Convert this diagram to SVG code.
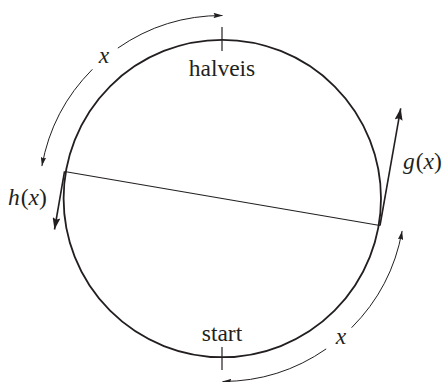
<svg xmlns="http://www.w3.org/2000/svg" width="444" height="382" viewBox="0 0 444 382">
<style>
text{font-family:'Liberation Serif','Times New Roman',Times,'DejaVu Serif',serif;font-size:23.5px;fill:#231f20}
.it{font-style:italic}
.arc{fill:none;stroke:#231f20;stroke-width:1}
.tan{fill:none;stroke:#231f20;stroke-width:1.6}
</style>
<defs>
<marker id="sm" viewBox="0 0 10 6" refX="10" refY="3" markerUnits="userSpaceOnUse" markerWidth="9" markerHeight="5.6" orient="auto">
<path d="M0,0 L10,3 L0,6 L1.5,3 Z" fill="#231f20"/>
</marker>
<marker id="lg" viewBox="0 0 12 8" refX="12" refY="4" markerUnits="userSpaceOnUse" markerWidth="12" markerHeight="8" orient="auto">
<path d="M0,0 L12,4 L0,8 L2,4 Z" fill="#231f20"/>
</marker>
</defs>
<g id="circle">
<circle cx="222.3" cy="198.5" r="158.7" fill="none" stroke="#231f20" stroke-width="1.8"/>
</g>
<g id="halveis">
<line x1="222" y1="27" x2="222" y2="51" stroke="#231f20" stroke-width="1.2"/>
<text x="222" y="76" text-anchor="middle" font-family="Liberation Serif, serif">halveis</text>
</g>
<g id="start">
<line x1="222" y1="347" x2="222" y2="370" stroke="#231f20" stroke-width="1.2"/>
<text x="222" y="341" text-anchor="middle" font-family="Liberation Serif, serif">start</text>
</g>
<g id="connectors">
<line x1="64.5" y1="171.5" x2="380" y2="225.5" stroke="#231f20" stroke-width="1.1"/>
<path class="arc" d="M117.8,48.1 A183,183 0 0 1 222.5,15.5" marker-end="url(#sm)"/>
<path class="arc" d="M92.4,69.3 A183,183 0 0 0 41.9,166.1" marker-end="url(#sm)"/>
<path class="arc" d="M351.6,327.7 A183,183 0 0 0 402.1,230.9" marker-end="url(#sm)"/>
<path class="arc" d="M326.2,348.9 A183,183 0 0 1 222.5,381.5" marker-end="url(#sm)"/>
<path class="tan" d="M64.5,171.5 L54.5,229.5" marker-end="url(#lg)"/>
<path class="tan" d="M380,225.5 L400.7,108.3" marker-end="url(#lg)"/>
</g>
<g id="labels">
<text class="it" x="104" y="63" text-anchor="middle" font-family="Liberation Serif, serif">x</text>
<text class="it" x="341" y="344" text-anchor="middle" font-family="Liberation Serif, serif">x</text>
<text x="8" y="205" font-family="Liberation Serif, serif"><tspan class="it">h</tspan><tspan dx="1">(</tspan><tspan class="it">x</tspan>)</text>
<text x="403" y="169" font-family="Liberation Serif, serif"><tspan class="it">g</tspan><tspan dx="1">(</tspan><tspan class="it">x</tspan>)</text>
</g>
</svg>
